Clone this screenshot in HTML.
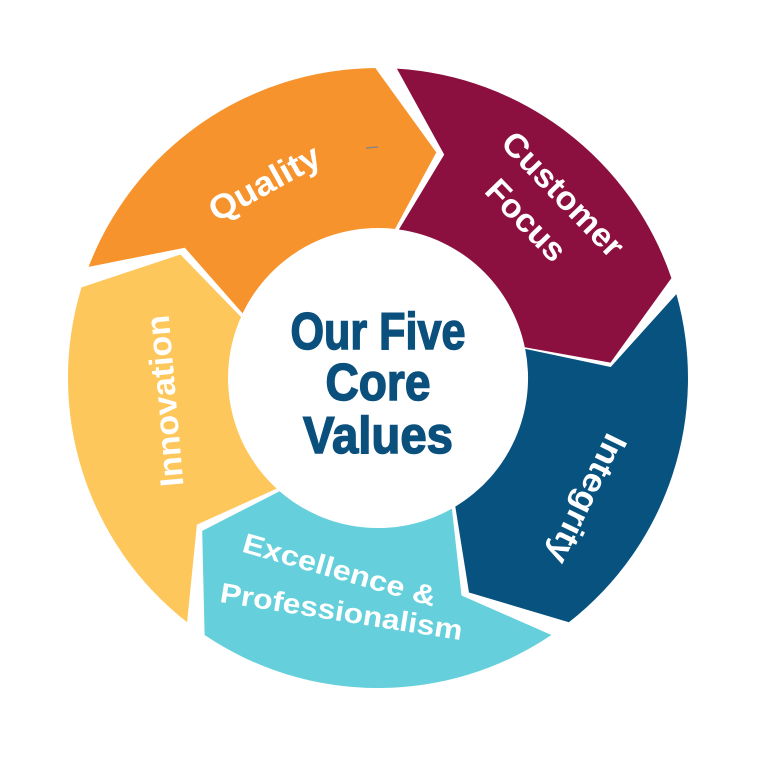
<!DOCTYPE html>
<html><head><meta charset="utf-8"><style>
html,body{margin:0;padding:0;background:#fff;}
svg{display:block}
.l{font-family:"Liberation Sans",sans-serif;font-weight:bold;fill:#fff;text-anchor:middle;}
.c{font-family:"Liberation Sans Narrow","Liberation Sans",sans-serif;font-weight:bold;fill:#0B507D;text-anchor:middle;font-size:52px;stroke:#0B507D;stroke-width:1.5px;}
</style></head><body>
<svg width="757" height="757" viewBox="0 0 757 757" xmlns="http://www.w3.org/2000/svg">
<rect width="757" height="757" fill="#fff"/>
<path fill="#F7932C" d="M88.6,266.9 A310,310 0 0 1 375.3,68.0 L436.3,152.4 L395.0,229.0 A150,150 0 0 0 242.6,313.4 L184.8,247.7 Z"/>
<path fill="#8C103F" d="M396.9,68.6 A310,310 0 0 1 671.4,278.1 L610.5,362.6 L524.8,347.3 A150,150 0 0 0 398.9,229.5 L444.2,154.6 Z"/>
<path fill="#08527F" d="M676.4,294.1 A310,310 0 0 1 568.9,622.3 L469.0,592.5 L455.3,506.6 A150,150 0 0 0 525.2,348.9 L610.7,367.0 Z"/>
<path fill="#65D0DC" d="M551.4,635.0 A310,310 0 0 1 204.6,635.0 L202.2,530.9 L279.6,491.2 A150,150 0 0 0 451.9,508.6 L461.5,595.5 Z"/>
<path fill="#FEC75C" d="M187.1,622.3 A310,310 0 0 1 81.5,287.4 L180.4,254.5 L241.0,317.0 A150,150 0 0 0 276.7,488.6 L196.9,524.6 Z"/>
<line x1="366" y1="148" x2="378" y2="147" stroke="#888" stroke-width="1.5"/>
<text class="c" x="378" y="349" textLength="175" lengthAdjust="spacingAndGlyphs">Our Five</text>
<text class="c" x="378" y="400" textLength="105" lengthAdjust="spacingAndGlyphs">Core</text>
<text class="c" x="378" y="453" textLength="150" lengthAdjust="spacingAndGlyphs">Values</text>
<text class="l" font-size="34" textLength="122" lengthAdjust="spacingAndGlyphs" transform="translate(270,193) rotate(-29)">Quality</text>
<text class="l" font-size="33" textLength="160" lengthAdjust="spacingAndGlyphs" transform="translate(555,202) rotate(46)">Customer</text>
<text class="l" font-size="33" textLength="100" lengthAdjust="spacingAndGlyphs" transform="translate(518,228) rotate(46)">Focus</text>
<text class="l" font-size="33" textLength="140" lengthAdjust="spacingAndGlyphs" transform="translate(577,494) rotate(116)">Integrity</text>
<text class="l" font-size="33" textLength="172" lengthAdjust="spacingAndGlyphs" transform="translate(176,400) rotate(-95)">Innovation</text>
<text class="l" font-size="28" textLength="200" lengthAdjust="spacingAndGlyphs" transform="translate(337,579) rotate(16)">Excellence &amp;</text>
<text class="l" font-size="28" textLength="245" lengthAdjust="spacingAndGlyphs" transform="translate(340,621) rotate(9)">Professionalism</text>
</svg>
</body></html>
